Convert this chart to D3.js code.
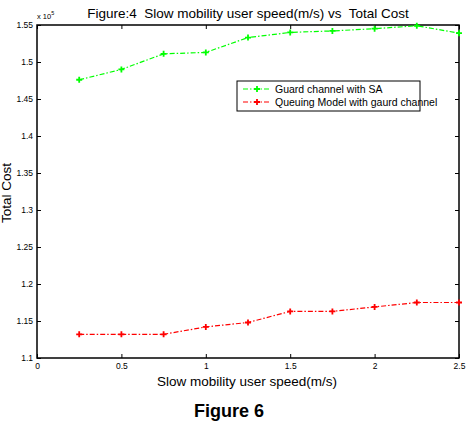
<!DOCTYPE html>
<html>
<head>
<meta charset="utf-8">
<script src="https://cdn.jsdelivr.net/npm/d3@7"></script>
<style>
  body { margin: 0; background: #fff; }
  text { font-family: "Liberation Sans", Arial, sans-serif; white-space: pre; }
</style>
</head>
<body>
<div id="chart"></div>
<script>
// speeds (m/s)
var speeds = [0.25, 0.5, 0.75, 1.0, 1.25, 1.5, 1.75, 2.0, 2.25, 2.5];
// total cost (x 10^5)
var guardSA = [1.476, 1.490, 1.511, 1.513, 1.533, 1.540, 1.542, 1.545, 1.549, 1.539];
var queuing = [1.132, 1.132, 1.132, 1.142, 1.148, 1.163, 1.163, 1.169, 1.175, 1.175];
var xTicks = [0, 0.5, 1, 1.5, 2, 2.5];
var yTicks = [1.1, 1.15, 1.2, 1.25, 1.3, 1.35, 1.4, 1.45, 1.5, 1.55];
var seriesNames = ["Guard channel with SA", "Queuing Model with gaurd channel"];
var seriesColors = ["#00ff00", "#ff0000"];

function init() {
    var w = 470, h = 424;
    var left = 37, right = 459, top = 25, bottom = 358;

    var svg = d3.select("#chart").append("svg")
        .attr("width", w).attr("height", h);

    var xScale = d3.scaleLinear().domain([0, 2.5]).range([left, right]);
    var yScale = d3.scaleLinear().domain([1.1, 1.55]).range([bottom, top]);

    // axes with inward ticks, mirrored on all sides
    var fmt = function(d) { return d3.format("")(+d.toFixed(2)); };
    svg.append("g").attr("transform", "translate(0," + bottom + ")")
        .call(d3.axisBottom(xScale).tickValues(xTicks).tickSizeInner(-4).tickSizeOuter(0).tickPadding(5).tickFormat(fmt))
        .call(function(g) { g.select(".domain").remove(); });
    svg.append("g").attr("transform", "translate(0," + top + ")")
        .call(d3.axisTop(xScale).tickValues(xTicks).tickSizeInner(-4).tickSizeOuter(0).tickFormat(""))
        .call(function(g) { g.select(".domain").remove(); });
    svg.append("g").attr("transform", "translate(" + left + ",0)")
        .call(d3.axisLeft(yScale).tickValues(yTicks).tickSizeInner(-4).tickSizeOuter(0).tickPadding(4).tickFormat(fmt))
        .call(function(g) { g.select(".domain").remove(); });
    svg.append("g").attr("transform", "translate(" + right + ",0)")
        .call(d3.axisRight(yScale).tickValues(yTicks).tickSizeInner(-4).tickSizeOuter(0).tickFormat(""))
        .call(function(g) { g.select(".domain").remove(); });

    svg.selectAll(".tick text").style("font-size", "8.5px").attr("fill", "#000")
        .style("font-family", "'Liberation Sans', Arial, sans-serif");
    svg.selectAll(".tick line").attr("stroke", "#000");

    svg.append("rect")
        .attr("x", left).attr("y", top)
        .attr("width", right - left).attr("height", bottom - top)
        .attr("fill", "none").attr("stroke", "#000").attr("stroke-width", 1.5);

    // lines
    var line = d3.line()
        .x(function(d) { return xScale(d.x); })
        .y(function(d) { return yScale(d.y); });

    [guardSA, queuing].forEach(function(vals, k) {
        var pts = speeds.map(function(s, i) { return { x: s, y: vals[i] }; });
        svg.append("path").datum(pts)
            .attr("d", line)
            .attr("fill", "none")
            .attr("stroke", seriesColors[k])
            .attr("stroke-width", 1.2)
            .attr("stroke-dasharray", "5,2,1.5,2");
        svg.append("g").selectAll("path")
            .data(pts).enter().append("path")
            .attr("d", "M-3,0H3M0,-3V3")
            .attr("transform", function(d) { return "translate(" + xScale(d.x) + "," + yScale(d.y) + ")"; })
            .attr("stroke", seriesColors[k])
            .attr("stroke-width", 1.8);
    });

    // legend
    var lg = svg.append("g").attr("transform", "translate(237,81)");
    lg.append("rect").attr("width", 183).attr("height", 30)
        .attr("fill", "#fff").attr("stroke", "#000").attr("stroke-width", 1);
    seriesNames.forEach(function(name, k) {
        var y = 8 + k * 13;
        lg.append("line").attr("x1", 6).attr("x2", 34).attr("y1", y).attr("y2", y)
            .attr("stroke", seriesColors[k]).attr("stroke-width", 1.2)
            .attr("stroke-dasharray", "5,2,1.5,2");
        lg.append("path").attr("d", "M17,"+ y + "h6M20," + (y - 3) + "v6")
            .attr("stroke", seriesColors[k]).attr("stroke-width", 1.8);
        lg.append("text").attr("x", 38).attr("y", y + 3.5)
            .style("font-size", "10.5px")
            .text(name);
    });

    // texts
    svg.append("text").attr("x", 248).attr("y", 18).attr("text-anchor", "middle")
        .style("font-size", "13.5px").text("Figure:4  Slow mobility user speed(m/s) vs  Total Cost");
    var ex = svg.append("text").attr("x", 37).attr("y", 19).style("font-size", "7.5px");
    ex.append("tspan").text("x 10");
    ex.append("tspan").attr("dy", -4).style("font-size", "5.5px").text("5");

    svg.append("text").attr("x", 247).attr("y", 386).attr("text-anchor", "middle")
        .style("font-size", "13.5px").text("Slow mobility user speed(m/s)");
    svg.append("text")
        .attr("transform", "translate(11,193) rotate(-90)")
        .attr("text-anchor", "middle")
        .style("font-size", "13.5px").text("Total Cost");
    svg.append("text").attr("x", 229).attr("y", 417).attr("text-anchor", "middle")
        .style("font-size", "18px").style("font-weight", "bold").text("Figure 6");
}

window.onload = init;
</script>
</body>
</html>
